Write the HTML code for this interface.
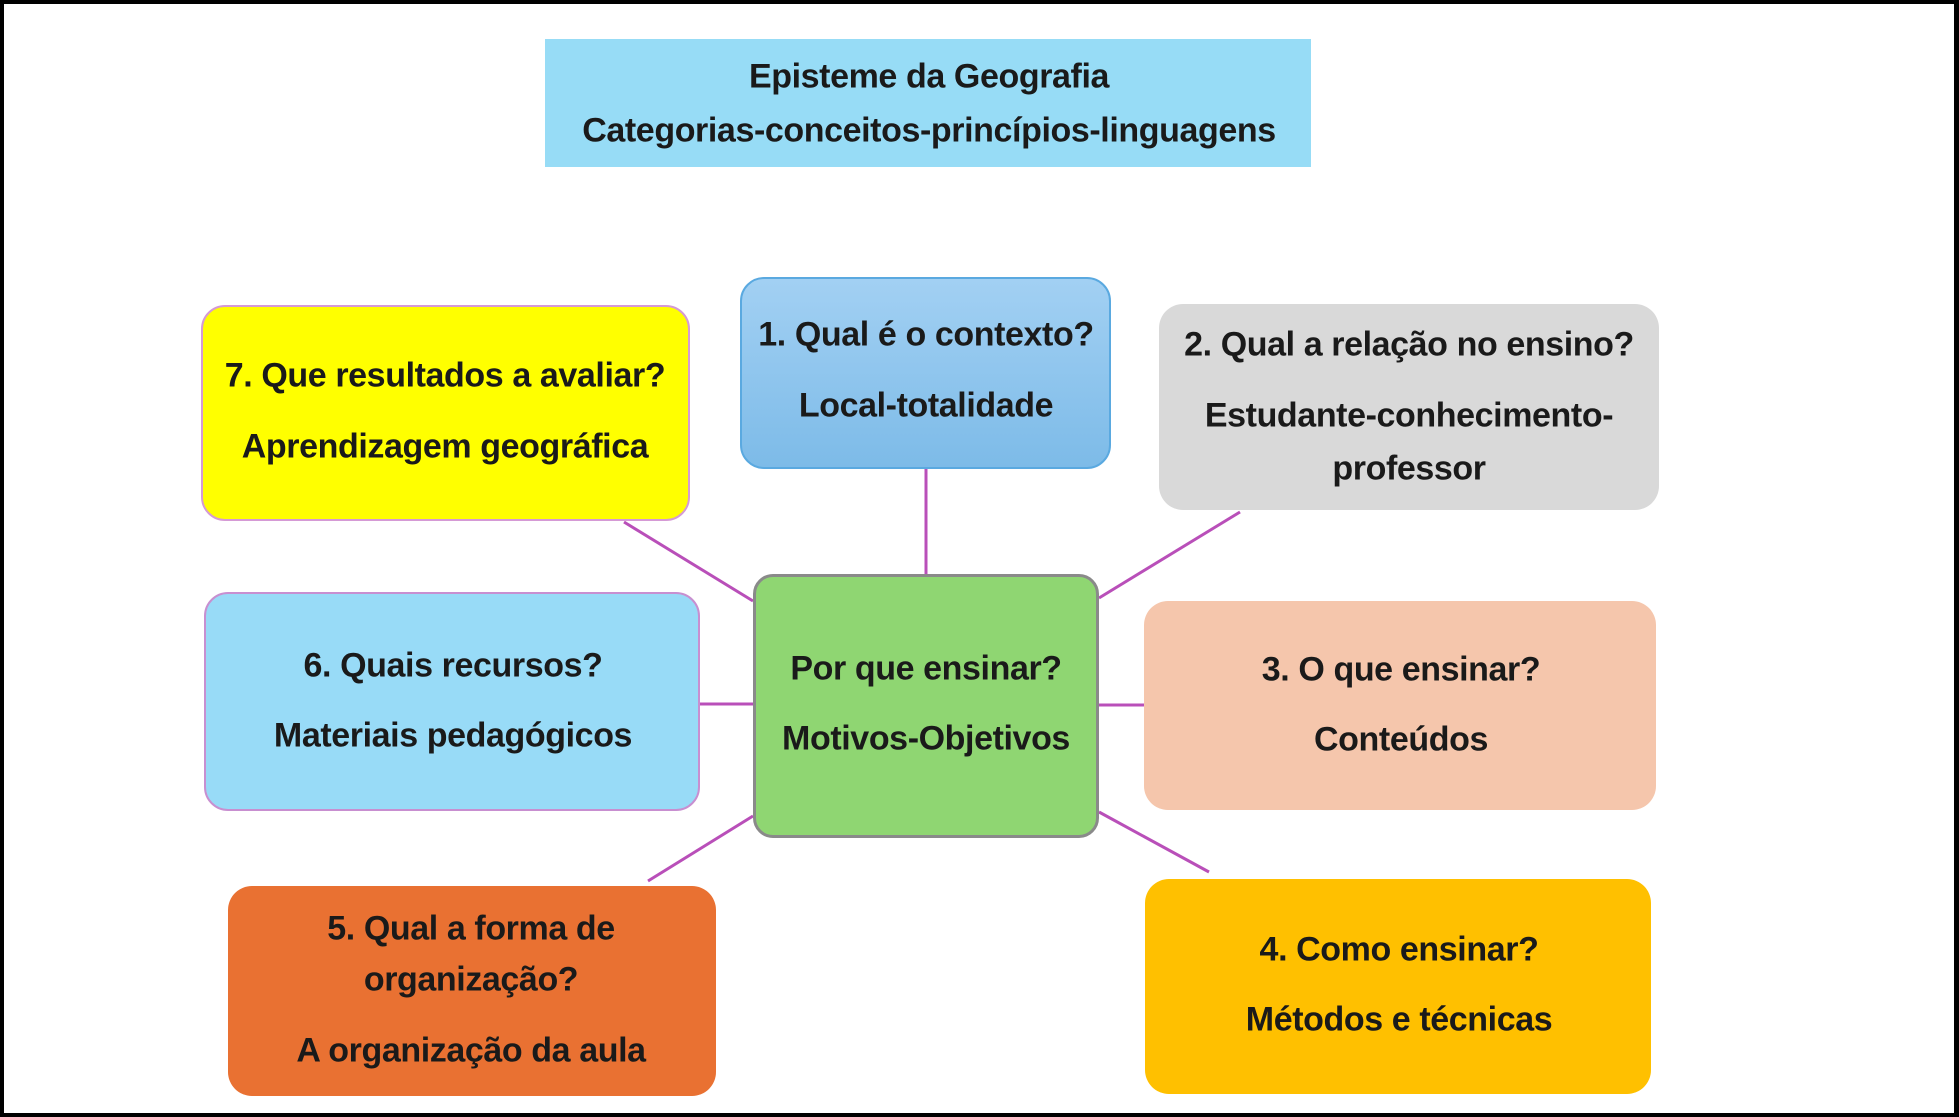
<!DOCTYPE html>
<html><head><meta charset="utf-8"><style>
html,body{margin:0;padding:0;background:#fff}
#c{position:relative;width:1959px;height:1117px;overflow:hidden;background:#fff;box-sizing:border-box;border:4px solid #000;border-right-width:5px}
#w{position:absolute;left:-5px;top:-4px;width:1959px;height:1117px}
.b{position:absolute;box-sizing:border-box;border-radius:24px}
.t{position:absolute;transform:translate(-50%,-50%);white-space:nowrap;font-family:"Liberation Sans Narrow","Liberation Sans",sans-serif;font-weight:bold;font-size:34px;color:#1a1a1a;letter-spacing:-0.4px}
svg{position:absolute;left:0;top:0}
</style></head><body><div id="c"><div id="w">
<svg width="1959" height="1117"><g stroke="#b94fb9" stroke-width="3" fill="none">
<line x1="927" y1="469" x2="927" y2="574"/>
<line x1="1241" y1="512" x2="1100" y2="598"/>
<line x1="625" y1="522" x2="754" y2="601"/>
<line x1="701" y1="704" x2="754" y2="704"/>
<line x1="1100" y1="705" x2="1145" y2="705"/>
<line x1="754" y1="816" x2="649" y2="881"/>
<line x1="1100" y1="812" x2="1210" y2="872"/>
</g></svg>
<div class="b" style="left:546px;top:39px;width:766px;height:128px;background:#97dcf6;border-radius:0"></div>
<div class="b" style="left:741px;top:277px;width:371px;height:192px;background:linear-gradient(#a2d0f3,#7dbbe8);border:2px solid #5aa9e0"></div>
<div class="b" style="left:1160px;top:304px;width:500px;height:206px;background:#d9d9d9"></div>
<div class="b" style="left:202px;top:305px;width:489px;height:216px;background:#ffff00;border:2px solid #d59ad5"></div>
<div class="b" style="left:754px;top:574px;width:346px;height:264px;background:#8fd672;border:3px solid #8a8a8a;border-radius:20px"></div>
<div class="b" style="left:205px;top:592px;width:496px;height:219px;background:#98dbf7;border:2px solid #c88fd0"></div>
<div class="b" style="left:1145px;top:601px;width:512px;height:209px;background:#f5c6ac"></div>
<div class="b" style="left:229px;top:886px;width:488px;height:210px;background:#e97132"></div>
<div class="b" style="left:1146px;top:879px;width:506px;height:215px;background:#ffc000"></div>

<div class="t" style="left:930px;top:77px">Episteme da Geografia</div>
<div class="t" style="left:930px;top:131px">Categorias-conceitos-princípios-linguagens</div>
<div class="t" style="left:927px;top:335px">1. Qual é o contexto?</div>
<div class="t" style="left:927px;top:406px">Local-totalidade</div>
<div class="t" style="left:1410px;top:345px">2. Qual a relação no ensino?</div>
<div class="t" style="left:1410px;top:416px">Estudante-conhecimento-</div>
<div class="t" style="left:1410px;top:469px">professor</div>
<div class="t" style="left:446px;top:376px">7. Que resultados a avaliar?</div>
<div class="t" style="left:446px;top:447px">Aprendizagem geográfica</div>
<div class="t" style="left:927px;top:669px">Por que ensinar?</div>
<div class="t" style="left:927px;top:739px">Motivos-Objetivos</div>
<div class="t" style="left:454px;top:666px">6. Quais recursos?</div>
<div class="t" style="left:454px;top:736px">Materiais pedagógicos</div>
<div class="t" style="left:1402px;top:670px">3. O que ensinar?</div>
<div class="t" style="left:1402px;top:740px">Conteúdos</div>
<div class="t" style="left:472px;top:929px">5. Qual a forma de</div>
<div class="t" style="left:472px;top:980px">organização?</div>
<div class="t" style="left:472px;top:1051px">A organização da aula</div>
<div class="t" style="left:1400px;top:950px">4. Como ensinar?</div>
<div class="t" style="left:1400px;top:1020px">Métodos e técnicas</div>
</div></div></body></html>
